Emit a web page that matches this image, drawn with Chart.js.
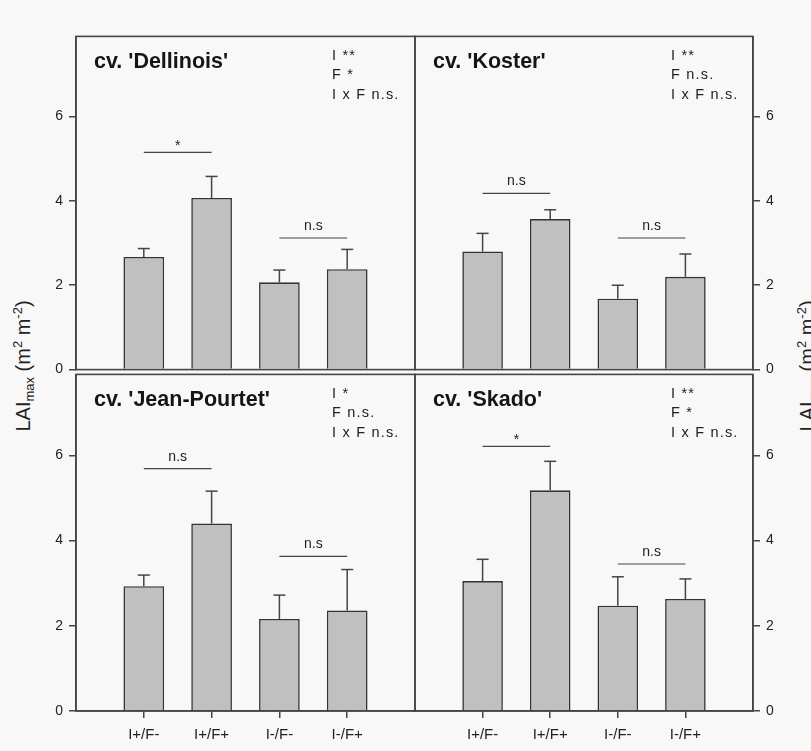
<!DOCTYPE html>
<html>
<head>
<meta charset="utf-8">
<script src="https://cdn.jsdelivr.net/npm/chart.js@4.4.1/dist/chart.umd.min.js"></script>
<style>
  body { margin: 0; background: #f8f8f8; width: 811px; height: 751px; overflow: hidden; position: relative; font-family: 'Liberation Sans', Arial, sans-serif; }
  canvas { position: absolute; }
  .ytitle { position: absolute; font-size: 20px; color: #222; white-space: nowrap; line-height: 1; transform: translate(-50%, -50%) rotate(-90deg); }
  .ytitle sub { font-size: 13px; vertical-align: -4px; }
  .ytitle sup { font-size: 13px; vertical-align: 8px; }
</style>
</head>
<body>
<div class="ytitle" style="left:23px; top:366px;">LAI<sub>max</sub> (m<sup>2</sup> m<sup>-2</sup>)</div>
<div class="ytitle" style="left:807px; top:366px;">LAI<sub>max</sub> (m<sup>2</sup> m<sup>-2</sup>)</div>

<script>
// treatments on the x axis
const groups = ['I+/F-', 'I+/F+', 'I-/F-', 'I-/F+'];
const cultivars = ["cv. 'Dellinois'", "cv. 'Koster'", "cv. 'Jean-Pourtet'", "cv. 'Skado'"];

// LAImax means and upper error
const dellinoisMean = [2.67, 4.07, 2.07, 2.38];
const dellinoisErr  = [0.20, 0.51, 0.29, 0.47];
const kosterMean    = [2.80, 3.57, 1.68, 2.20];
const kosterErr     = [0.43, 0.22, 0.32, 0.54];
const jeanMean      = [2.93, 4.40, 2.16, 2.36];
const jeanErr       = [0.26, 0.76, 0.56, 0.96];
const skadoMean     = [3.05, 5.18, 2.47, 2.63];
const skadoErr      = [0.51, 0.68, 0.68, 0.47];

// ANOVA results per cultivar
const dellinoisStats = ['I **', 'F *', 'I x F n.s.'];
const kosterStats    = ['I **', 'F n.s.', 'I x F n.s.'];
const jeanStats      = ['I *', 'F n.s.', 'I x F n.s.'];
const skadoStats     = ['I **', 'F *', 'I x F n.s.'];

// pairwise comparisons (I+/F- vs I+/F+, I-/F- vs I-/F+): bracket height and label
const dellinoisSig = [5.15, 3.12], dellinoisSigLabel = ['*', 'n.s'];
const kosterSig    = [4.18, 3.12], kosterSigLabel    = ['n.s', 'n.s'];
const jeanSig      = [5.69, 3.63], jeanSigLabel      = ['n.s', 'n.s'];
const skadoSig     = [6.21, 3.45], skadoSigLabel     = ['*', 'n.s'];

const yTicks = [0, 2, 4, 6];

Chart.defaults.font.family = "'Liberation Sans', Arial, sans-serif";
Chart.defaults.color = '#222';

const LINE = '#454545';

const extras = {
  id: 'extras',
  afterDatasetsDraw(chart, args, o) {
    const ctx = chart.ctx, x = chart.scales.x, y = chart.scales.y;
    ctx.save();
    ctx.strokeStyle = LINE;
    ctx.lineWidth = 1.5;
    const seg = (x1, y1, x2, y2) => { ctx.beginPath(); ctx.moveTo(x1, y1); ctx.lineTo(x2, y2); ctx.stroke(); };
    // error bars (upper only)
    o.mean.forEach((m, i) => {
      const px = x.getPixelForValue(i + 1);
      const top = y.getPixelForValue(m + o.err[i]);
      seg(px, y.getPixelForValue(m), px, top);
      seg(px - 6, top, px + 6, top);
    });
    // comparison brackets
    ctx.lineWidth = 1.2;
    ctx.fillStyle = '#222';
    ctx.font = '14px ' + Chart.defaults.font.family;
    ctx.textAlign = 'center';
    o.sig.forEach((h, k) => {
      const xa = x.getPixelForValue(2 * k + 1), xb = x.getPixelForValue(2 * k + 2);
      const py = y.getPixelForValue(h);
      seg(xa, py, xb, py);
      const lab = o.sigLabel[k];
      ctx.fillText(lab, (xa + xb) / 2, py - (lab === '*' ? 2 : 8));
    });
    ctx.restore();
  },
  afterDraw(chart, args, o) {
    const ctx = chart.ctx, a = chart.chartArea;
    ctx.save();
    ctx.strokeStyle = LINE;
    ctx.lineWidth = 1.6;
    ctx.strokeRect(a.left, a.top, a.width, a.height);
    ctx.fillStyle = '#151515';
    ctx.textAlign = 'left';
    ctx.font = 'bold 21.5px ' + Chart.defaults.font.family;
    ctx.fillText(o.title, a.left + 18, a.top + 32);
    ctx.fillStyle = '#222';
    ctx.font = '14.5px ' + Chart.defaults.font.family;
    ctx.letterSpacing = '1.2px';
    o.stats.forEach((s, i) => ctx.fillText(s, a.left + 256, a.top + 23.5 + i * 19.5));
    ctx.restore();
  }
};

const PAD = 12, AXW = 50, XAH = 36;

function makePanel(area, side, showX, title, mean, err, stats, sig, sigLabel) {
  const w = area.x1 - area.x0 + AXW + 2 * PAD;
  const h = area.y1 - area.y0 + 2 * PAD + (showX ? XAH : 0);
  const cv = document.createElement('canvas');
  cv.width = w; cv.height = h;
  cv.style.left = (side === 'left' ? area.x0 - AXW - PAD : area.x0 - PAD) + 'px';
  cv.style.top = (area.y0 - PAD) + 'px';
  document.body.appendChild(cv);

  new Chart(cv, {
    type: 'bar',
    data: {
      datasets: [{
        data: mean.map((v, i) => ({ x: i + 1, y: v })),
        backgroundColor: '#c0c0c0',
        borderColor: '#333333',
        borderWidth: 1.6,
        barPercentage: 0.6,
        categoryPercentage: 1
      }]
    },
    options: {
      responsive: false,
      devicePixelRatio: 1,
      animation: false,
      layout: { padding: PAD },
      plugins: {
        legend: { display: false },
        tooltip: { enabled: false },
        extras: { title, mean, err, stats, sig, sigLabel }
      },
      scales: {
        x: {
          type: 'linear',
          display: showX,
          min: 0, max: 5,
          offset: false,
          grid: {
            offset: false,
            drawOnChartArea: false,
            tickLength: 7,
            lineWidth: 1.5,
            tickColor: c => (c.tick && c.tick.value >= 1 && c.tick.value <= 4) ? LINE : 'rgba(0,0,0,0)'
          },
          border: { color: LINE, width: 1.5 },
          ticks: {
            stepSize: 1,
            padding: 8,
            maxRotation: 0,
            autoSkip: false,
            font: { size: 15 },
            color: '#222',
            callback: v => groups[v - 1] || ''
          },
          afterFit: s => { s.height = showX ? XAH : 0; }
        },
        y: {
          position: side,
          min: 0, max: 7.9,
          grid: { drawOnChartArea: false, tickLength: 7, lineWidth: 1.5, color: LINE },
          border: { color: LINE, width: 1.5 },
          afterBuildTicks: s => { s.ticks = yTicks.map(v => ({ value: v })); },
          ticks: { padding: 6, font: { size: 14 }, color: '#222' },
          afterFit: s => { s.width = AXW; }
        }
      }
    },
    plugins: [extras]
  });
}

makePanel({ x0: 76, x1: 415, y0: 34, y1: 372 }, 'left', false, cultivars[0], dellinoisMean, dellinoisErr, dellinoisStats, dellinoisSig, dellinoisSigLabel);
makePanel({ x0: 415, x1: 753, y0: 34, y1: 372 }, 'right', false, cultivars[1], kosterMean, kosterErr, kosterStats, kosterSig, kosterSigLabel);
makePanel({ x0: 76, x1: 415, y0: 372, y1: 711 }, 'left', true, cultivars[2], jeanMean, jeanErr, jeanStats, jeanSig, jeanSigLabel);
makePanel({ x0: 415, x1: 753, y0: 372, y1: 711 }, 'right', true, cultivars[3], skadoMean, skadoErr, skadoStats, skadoSig, skadoSigLabel);
</script>
</body>
</html>
